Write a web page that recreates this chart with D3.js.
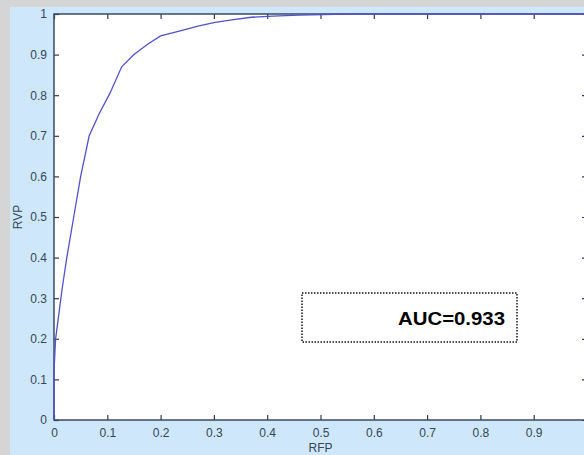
<!DOCTYPE html>
<html>
<head>
	<meta charset="utf-8">
	<script src="https://d3js.org/d3.v7.min.js"></script>
	<title>ROC curve</title>
	<style>
		body { margin: 0; background: #d5d5d5; }
		svg { display: block; }
	</style>
</head>
<body>
<div id="chart"></div>
<script type="text/javascript">

	// ROC curve
	var fpr = [0, 0, 0.003, 0.01, 0.016, 0.024, 0.037, 0.05, 0.066, 0.085, 0.105, 0.127, 0.15, 0.175, 0.2, 0.235, 0.27, 0.3, 0.33, 0.37, 0.41, 0.46, 0.55, 1.0];
	var tpr = [0, 0.12, 0.2, 0.27, 0.33, 0.4, 0.5, 0.6, 0.7, 0.755, 0.805, 0.87, 0.9, 0.925, 0.946, 0.958, 0.97, 0.979, 0.985, 0.992, 0.995, 0.997, 1.0, 1.0];
	var xTicks = [0, 0.1, 0.2, 0.3, 0.4, 0.5, 0.6, 0.7, 0.8, 0.9, 1];
	var xTickLabels = ["0", "0.1", "0.2", "0.3", "0.4", "0.5", "0.6", "0.7", "0.8", "0.9", ""];
	var yTicks = [0, 0.1, 0.2, 0.3, 0.4, 0.5, 0.6, 0.7, 0.8, 0.9, 1];
	var yTickLabels = ["0", "0.1", "0.2", "0.3", "0.4", "0.5", "0.6", "0.7", "0.8", "0.9", "1"];
	var xLabel = "RFP";
	var yLabel = "RVP";
	var aucText = "AUC=0.933";

	var width = 584, height = 455;
	var plotL = 54, plotR = 587, plotT = 14, plotB = 420;

	var svg = d3.select("#chart").append("svg")
		.attr("width", width)
		.attr("height", height);

	// grey page + light blue figure background
	svg.append("rect").attr("width", width).attr("height", height).attr("fill", "#d5d5d5");
	svg.append("rect")
		.attr("x", 10).attr("y", 7)
		.attr("width", width - 10).attr("height", height - 7)
		.attr("fill", "#cfe7fa");

	var x = d3.scaleLinear().domain([0, 1]).range([plotL, plotR]);
	var y = d3.scaleLinear().domain([0, 1]).range([plotB, plotT]);

	svg.append("rect")
		.attr("x", plotL).attr("y", plotT)
		.attr("width", plotR - plotL).attr("height", plotB - plotT)
		.attr("fill", "#ffffff");

	function styleAxis(g) {
		g.select(".domain").remove();
		g.selectAll(".tick line").attr("stroke", "#2e3b4e").attr("stroke-width", 1.2);
		g.selectAll(".tick text")
			.attr("fill", "#34465a")
			.style("font-family", "'Liberation Sans', Arial, sans-serif")
			.style("font-size", "12px");
	}

	// bottom axis with ticks pointing inward
	svg.append("g")
		.attr("transform", "translate(0," + plotB + ")")
		.call(d3.axisBottom(x).tickValues(xTicks).tickSize(-5).tickPadding(8)
			.tickFormat(function(d, i){ return xTickLabels[i]; }))
		.call(styleAxis);

	svg.append("g")
		.attr("transform", "translate(0," + plotT + ")")
		.call(d3.axisTop(x).tickValues(xTicks).tickSize(-5).tickFormat(""))
		.call(styleAxis);

	svg.append("g")
		.attr("transform", "translate(" + plotL + ",0)")
		.call(d3.axisLeft(y).tickValues(yTicks).tickSize(-5).tickPadding(7)
			.tickFormat(function(d, i){ return yTickLabels[i]; }))
		.call(styleAxis);

	svg.append("g")
		.attr("transform", "translate(" + plotR + ",0)")
		.call(d3.axisRight(y).tickValues(yTicks).tickSize(-5).tickFormat(""))
		.call(styleAxis);

	// frame
	svg.append("rect")
		.attr("x", plotL).attr("y", plotT)
		.attr("width", plotR - plotL).attr("height", plotB - plotT)
		.attr("fill", "none")
		.attr("stroke", "#3a4a60")
		.attr("stroke-width", 1.5);

	var pts = fpr.map(function(d, i){ return [d, tpr[i]]; });

	svg.append("path")
		.datum(pts)
		.attr("fill", "none")
		.attr("stroke", "#5052cc")
		.attr("stroke-width", 1.3)
		.attr("d", d3.line()
			.x(function(d){ return x(d[0]); })
			.y(function(d){ return y(d[1]); }));

	// axis titles
	svg.append("text")
		.attr("x", (plotL + plotR) / 2)
		.attr("y", 452)
		.attr("text-anchor", "middle")
		.attr("fill", "#34465a")
		.style("font-family", "'Liberation Sans', Arial, sans-serif")
		.style("font-size", "12px")
		.text(xLabel);

	svg.append("text")
		.attr("transform", "translate(22," + ((plotT + plotB) / 2) + ") rotate(-90)")
		.attr("text-anchor", "middle")
		.attr("fill", "#34465a")
		.style("font-family", "'Liberation Sans', Arial, sans-serif")
		.style("font-size", "12px")
		.text(yLabel);

	// AUC box
	svg.append("rect")
		.attr("x", 302).attr("y", 293)
		.attr("width", 215).attr("height", 49)
		.attr("fill", "#ffffff")
		.attr("stroke", "#111")
		.attr("stroke-width", 1.5)
		.attr("stroke-dasharray", "1.5,1.5");

	svg.append("text")
		.attr("x", 398)
		.attr("y", 325)
		.attr("fill", "#000")
		.style("font-family", "'Liberation Sans', Arial, sans-serif")
		.style("font-weight", "bold")
		.style("font-size", "18px")
		.attr("textLength", 107)
		.attr("lengthAdjust", "spacingAndGlyphs")
		.text(aucText);

</script>
</body>
</html>
